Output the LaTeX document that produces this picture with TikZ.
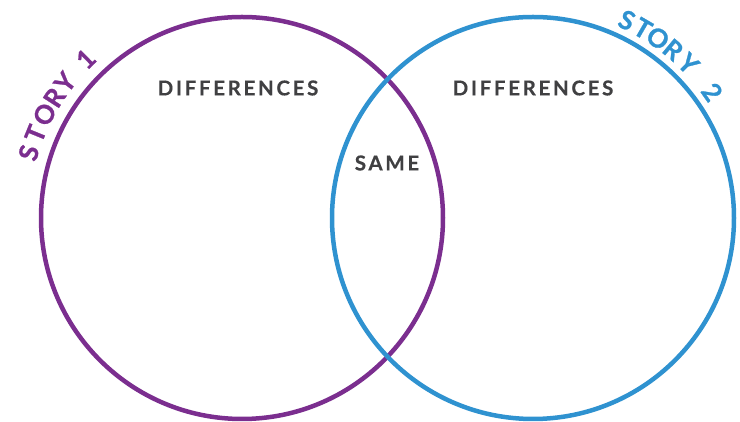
\documentclass[tikz,border=0pt]{standalone}
\usepackage{fontspec}
\usetikzlibrary{calc}
\setmainfont{Lato}
\definecolor{storypurple}{RGB}{123,46,143}
\definecolor{storyblue}{RGB}{47,146,208}
\definecolor{labelgray}{RGB}{64,64,66}
\tikzset{
  ring/.style={line width=4.5pt},
  lbl/.style={text=labelgray, font=\fontsize{20.5}{20.5}\selectfont\bfseries\addfontfeatures{LetterSpace=13,FakeBold=0.4}, inner sep=0pt},
  storychar/.style={font=\fontsize{26}{26}\selectfont\bfseries\addfontfeatures{FakeBold=1}, inner sep=0pt, anchor=center}
}
\begin{document}
\begin{tikzpicture}[x=1pt,y=1pt]
\useasboundingbox (0,0) rectangle (740,422);
\coordinate (c1) at (242,204);
\coordinate (c2) at (533,204);
\draw[ring, storypurple] (c1) circle[radius=201];
\draw[ring, storyblue] (c2) circle[radius=201];
\node[lbl] (d1) at (238,334) {DIFFERENCES};
\node[lbl] (d2) at (533,334) {DIFFERENCES};
\node[lbl] (same) at (387,259) {SAME};
\foreach \ch/\a [count=\i] in {S/163,T/157.8,O/152.3,R/147.3,Y/142.5,1/134.5}
  \node[storychar, text=storypurple, rotate=\a-90] (s1-\i) at ($(c1)+(\a:223)$) {\ch};
\foreach \ch/\a [count=\i] in {S/64.6,T/59.9,O/55.2,R/50.2,Y/44.8,2/35.1}
  \node[storychar, text=storyblue, rotate=\a-90] (s2-\i) at ($(c2)+(\a:219)$) {\ch};
\end{tikzpicture}
\end{document}
